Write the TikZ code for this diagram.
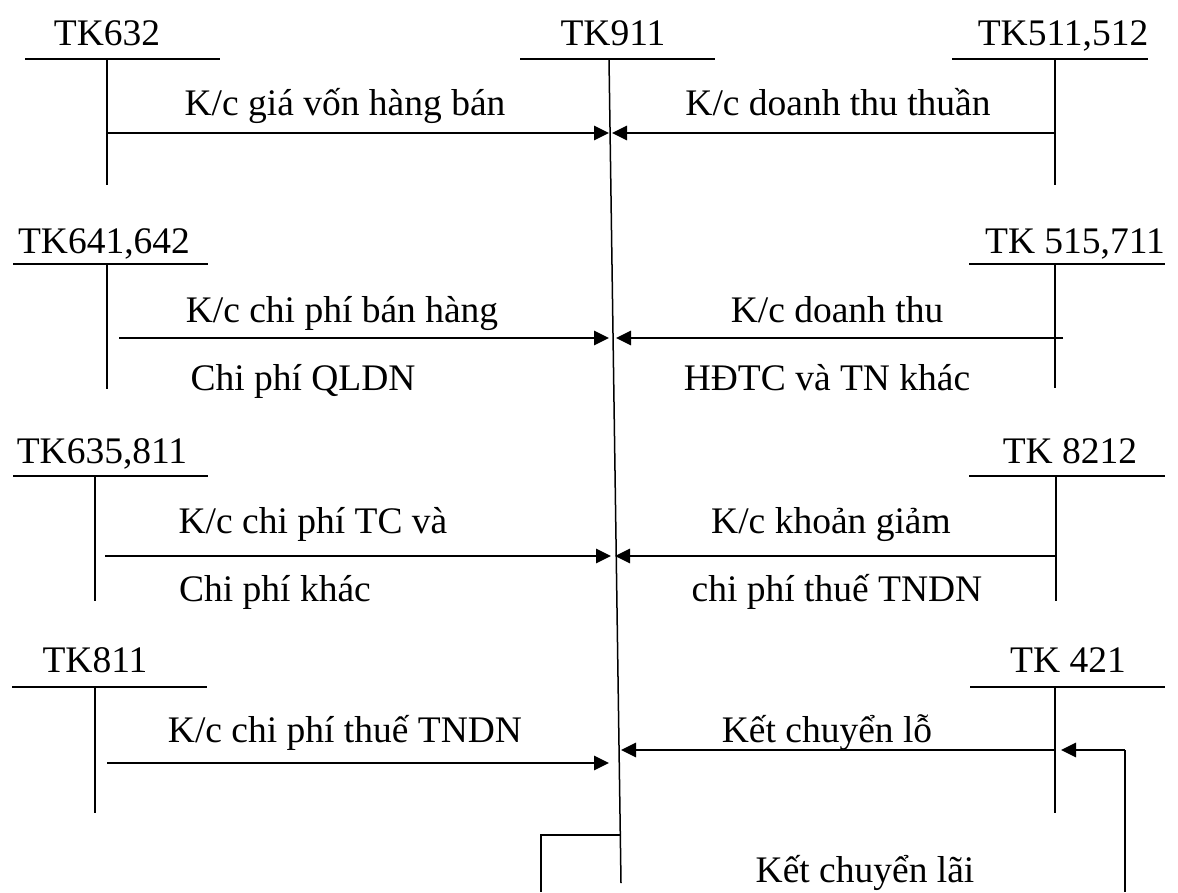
\documentclass[tikz,border=0pt]{standalone}
\usepackage{fontspec}
\setmainfont{Liberation Serif}
\usetikzlibrary{arrows.meta}
\begin{document}
\begin{tikzpicture}[x=1pt,y=-1pt,
  acct/.style={line width=1.8pt},
  axis911/.style={line width=1.5pt},
  flow/.style={line width=2.8pt,-{Triangle[length=15pt,width=14pt]}},
  plain/.style={line width=1.8pt},
  lbl/.style={font=\fontsize{37.5}{42}\selectfont, inner sep=0pt, anchor=base},
]
\useasboundingbox (0,0) rectangle (1178,892);

% ---------- TK911 (central account, slightly slanted) ----------
\node[lbl] (n911) at (613,45) {TK911};
\coordinate (h911a) at (520,59);
\coordinate (h911b) at (715,59);
\coordinate (v911t) at (609,59);
\coordinate (v911b) at (621,883);
\draw[acct] (h911a) -- (h911b);
\draw[axis911] (v911t) -- (v911b);

% ---------- Row 1 ----------
\node[lbl] (n632) at (107,45) {TK632};
\coordinate (h632a) at (25,59);  \coordinate (h632b) at (220,59);
\coordinate (v632t) at (107,59); \coordinate (v632b) at (107,185);
\draw[acct] (h632a) -- (h632b);
\draw[acct] (v632t) -- (v632b);
\coordinate (a1s) at (107,133); \coordinate (a1e) at (609,133);
\draw[flow] (a1s) -- (a1e);
\node[lbl] (l1) at (345,115) {K/c giá vốn hàng bán};

\node[lbl] (n511) at (1063,45) {TK511,512};
\coordinate (h511a) at (952,59);  \coordinate (h511b) at (1148,59);
\coordinate (v511t) at (1055,59); \coordinate (v511b) at (1055,185);
\draw[acct] (h511a) -- (h511b);
\draw[acct] (v511t) -- (v511b);
\coordinate (b1s) at (1055,133); \coordinate (b1e) at (612,133);
\draw[flow] (b1s) -- (b1e);
\node[lbl] (r1) at (838,115) {K/c doanh thu thuần};

% ---------- Row 2 ----------
\node[lbl] (n641) at (104,253) {TK641,642};
\coordinate (h641a) at (13,264);  \coordinate (h641b) at (208,264);
\coordinate (v641t) at (107,264); \coordinate (v641b) at (107,389);
\draw[acct] (h641a) -- (h641b);
\draw[acct] (v641t) -- (v641b);
\coordinate (a2s) at (119,338); \coordinate (a2e) at (609,338);
\draw[flow] (a2s) -- (a2e);
\node[lbl] (l2a) at (342,322) {K/c chi phí bán hàng};
\node[lbl] (l2b) at (303,390) {Chi phí QLDN};

\node[lbl] (n515) at (1075,253) {TK 515,711};
\coordinate (h515a) at (969,264);  \coordinate (h515b) at (1165,264);
\coordinate (v515t) at (1055,264); \coordinate (v515b) at (1055,388);
\draw[acct] (h515a) -- (h515b);
\draw[acct] (v515t) -- (v515b);
\coordinate (b2s) at (1063,338); \coordinate (b2e) at (616,338);
\draw[flow] (b2s) -- (b2e);
\node[lbl] (r2a) at (837,322) {K/c doanh thu};
\node[lbl] (r2b) at (827,390) {HĐTC và TN khác};

% ---------- Row 3 ----------
\node[lbl] (n635) at (102,463) {TK635,811};
\coordinate (h635a) at (13,476);  \coordinate (h635b) at (208,476);
\coordinate (v635t) at (95,476);  \coordinate (v635b) at (95,601);
\draw[acct] (h635a) -- (h635b);
\draw[acct] (v635t) -- (v635b);
\coordinate (a3s) at (105,556); \coordinate (a3e) at (611,556);
\draw[flow] (a3s) -- (a3e);
\node[lbl] (l3a) at (313,533) {K/c chi phí TC và};
\node[lbl] (l3b) at (275,601) {Chi phí khác};

\node[lbl] (n8212) at (1070,463) {TK 8212};
\coordinate (h8212a) at (969,476);  \coordinate (h8212b) at (1165,476);
\coordinate (v8212t) at (1056,476); \coordinate (v8212b) at (1056,601);
\draw[acct] (h8212a) -- (h8212b);
\draw[acct] (v8212t) -- (v8212b);
\coordinate (b3s) at (1056,556); \coordinate (b3e) at (615,556);
\draw[flow] (b3s) -- (b3e);
\node[lbl] (r3a) at (831,533) {K/c khoản giảm};
\node[lbl] (r3b) at (837,601) {chi phí thuế TNDN};

% ---------- Row 4 ----------
\node[lbl] (n811) at (95,672) {TK811};
\coordinate (h811a) at (12,687);  \coordinate (h811b) at (207,687);
\coordinate (v811t) at (95,687);  \coordinate (v811b) at (95,813);
\draw[acct] (h811a) -- (h811b);
\draw[acct] (v811t) -- (v811b);
\coordinate (a4s) at (107,763); \coordinate (a4e) at (609,763);
\draw[flow] (a4s) -- (a4e);
\node[lbl] (l4) at (345,742) {K/c chi phí thuế TNDN};

\node[lbl] (n421) at (1068,672) {TK 421};
\coordinate (h421a) at (970,687);  \coordinate (h421b) at (1165,687);
\coordinate (v421t) at (1055,687); \coordinate (v421b) at (1055,813);
\draw[acct] (h421a) -- (h421b);
\draw[acct] (v421t) -- (v421b);
\coordinate (b4s) at (1055,750); \coordinate (b4e) at (621,750);
\draw[flow] (b4s) -- (b4e);
\node[lbl] (r4) at (827,742) {Kết chuyển lỗ};

% ---------- Kết chuyển lãi loop ----------
\coordinate (p1) at (620,835);
\coordinate (p2) at (541,835);
\coordinate (p3) at (541,892);
\draw[plain] (p1) -- (p2) -- (p3);
\coordinate (q1) at (1125,892);
\coordinate (q2) at (1125,750);
\coordinate (q3) at (1061,750);
\draw[plain] (q1) -- (q2);
\draw[flow] (q2) -- (q3);
\node[lbl] (r5) at (865,882) {Kết chuyển lãi};
\end{tikzpicture}
\end{document}
